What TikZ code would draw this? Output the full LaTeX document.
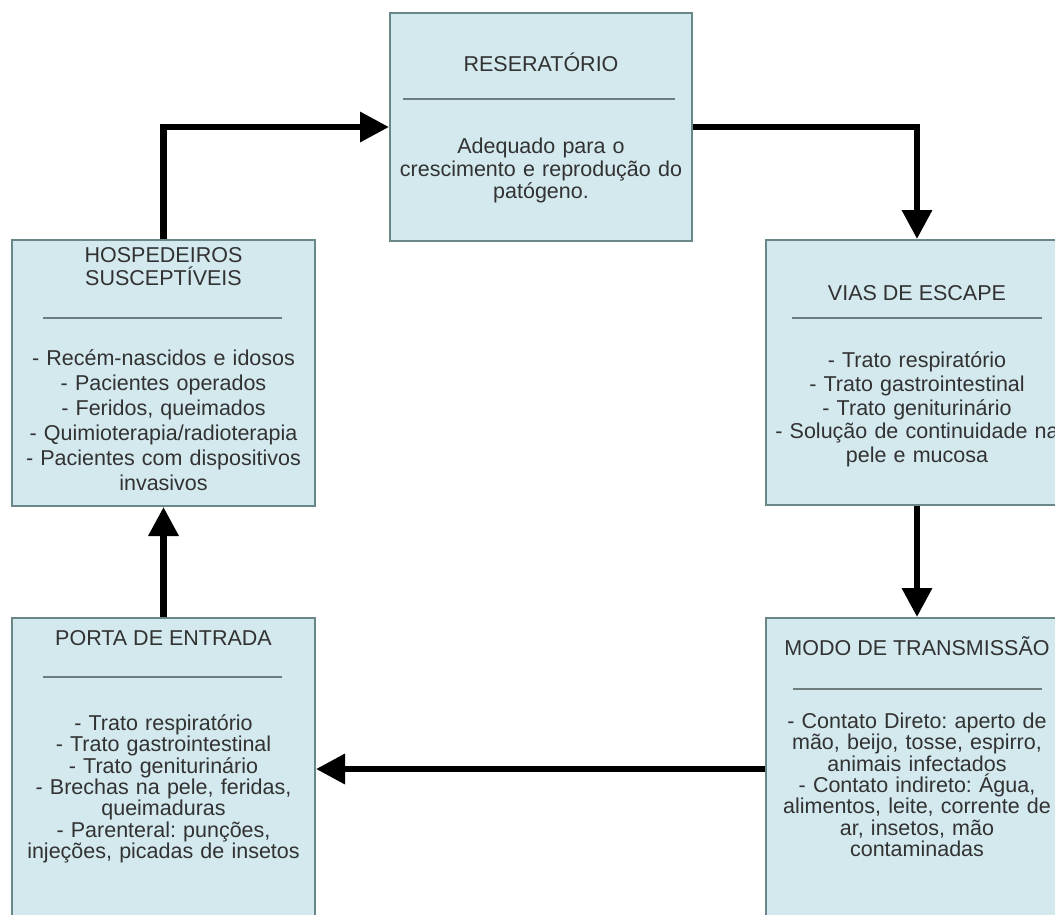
\documentclass[tikz,border=0pt]{standalone}
\usepackage{fontspec}
\setmainfont{Liberation Sans}
\frenchspacing
\usetikzlibrary{arrows.meta}
\definecolor{boxfill}{RGB}{211,233,238}
\definecolor{boxline}{RGB}{105,135,135}
\definecolor{ruleline}{RGB}{110,125,125}
\definecolor{txt}{RGB}{50,50,50}
\begin{document}
\begin{tikzpicture}[x=1pt,y=-1pt,
  card/.style={draw=boxline, line width=2pt, fill=boxfill, rectangle, inner sep=0pt},
  head/.style={text=txt, font=\fontsize{21.5}{23}\selectfont, anchor=base, inner sep=0pt},
  body/.style={text=txt, anchor=base, inner sep=0pt, text width=310pt, align=center},
  divider/.style={draw=ruleline, line width=1.6pt},
  flow/.style={line width=6.5pt, -{Triangle[length=29pt,width=29pt]}}]

\useasboundingbox (0,0) rectangle (1055,914);
\clip (0,0) rectangle (1055,914);

% the five stages of the chain
\node[card, minimum width=302pt, minimum height=228pt] (res)   at (541,127)   {};
\node[card, minimum width=303pt, minimum height=266pt] (hosp)  at (163.5,373) {};
\node[card, minimum width=302pt, minimum height=265pt] (vias)  at (917,372.5) {};
\node[card, minimum width=303pt, minimum height=302pt] (porta) at (163.5,769) {};
\node[card, minimum width=302pt, minimum height=302pt] (modo)  at (917,769)   {};

% Reservatorio
\node[head] (resT) at (541,71.7) {RESERATÓRIO};
\draw[divider] (403,99) -- (675,99);
\node[body, font=\fontsize{21.5}{22.5}\selectfont] (resB) at (541,153.6)
  {Adequado para o\\crescimento e reprodução do\\patógeno.};

% Hospedeiros
\node[body, font=\fontsize{21.5}{23}\selectfont] (hospT) at (163.5,262.7)
  {HOSPEDEIROS\\SUSCEPTÍVEIS};
\draw[divider] (43,318) -- (282,318);
\node[body, font=\fontsize{21.5}{25}\selectfont] (hospB) at (163.5,365.6)
  {- Recém-nascidos e idosos\\- Pacientes operados\\- Feridos, queimados\\- Quimioterapia/radioterapia\\- Pacientes com dispositivos\\invasivos};

% Vias de escape
\node[head] (viasT) at (917,300.7) {VIAS DE ESCAPE};
\draw[divider] (792,318) -- (1042,318);
\node[body, font=\fontsize{21.5}{23.7}\selectfont] (viasB) at (917,367.6)
  {- Trato respiratório\\- Trato gastrointestinal\\- Trato geniturinário\\- Solução de continuidade na\\pele e mucosa};

% Porta de entrada
\node[head] (portaT) at (163.5,645.7) {PORTA DE ENTRADA};
\draw[divider] (43,677) -- (282,677);
\node[body, font=\fontsize{21.5}{21.3}\selectfont] (portaB) at (163.5,730.6)
  {- Trato respiratório\\- Trato gastrointestinal\\- Trato geniturinário\\- Brechas na pele, feridas,\\queimaduras\\- Parenteral: punções,\\injeções, picadas de insetos};

% Modo de transmissao
\node[head] (modoT) at (917,655.7) {MODO DE TRANSMISSÃO};
\draw[divider] (793,689) -- (1042,689);
\node[body, font=\fontsize{21.5}{21.3}\selectfont] (modoB) at (917,728.6)
  {- Contato Direto: aperto de\\mão, beijo, tosse, espirro,\\animais infectados\\- Contato indireto: Água,\\alimentos, leite, corrente de\\ar, insetos, mão\\contaminadas};

% connectors around the cycle
\draw[flow] (hosp.north) |- (res.west);
\draw[flow] (res.east) -| (vias.north);
\draw[flow] (vias.south) -- (modo.north);
\draw[flow] (modo.west) -- (porta.east);
\draw[flow] (porta.north) -- (hosp.south);
\end{tikzpicture}
\end{document}
